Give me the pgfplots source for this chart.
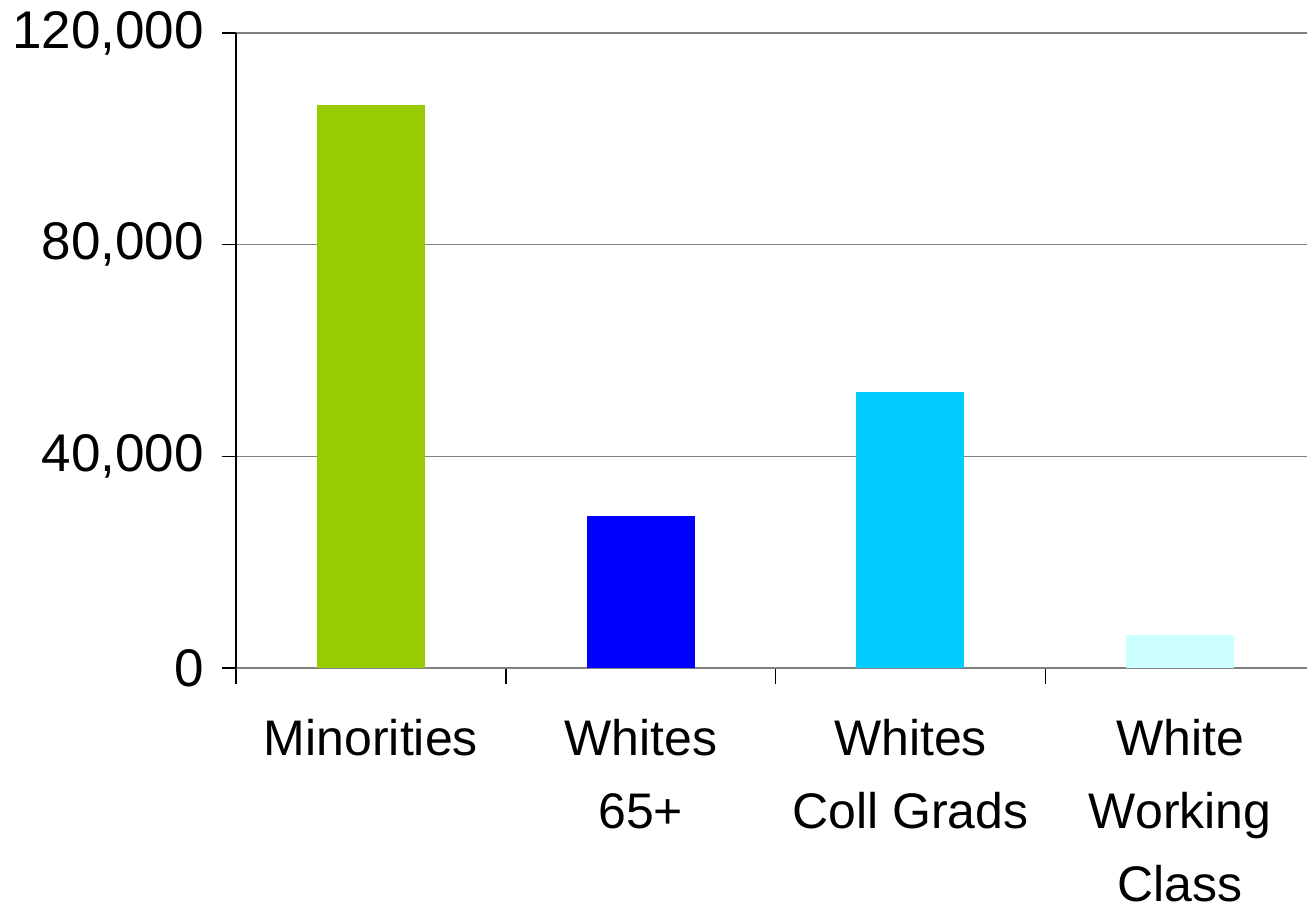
\documentclass[border=0pt]{standalone}
\usepackage{pgfplots}
\pgfplotsset{compat=1.18}
\usepackage{fontspec}
\setmainfont{Liberation Sans}
\definecolor{cMin}{HTML}{99CC00}
\definecolor{cW65}{HTML}{0000FF}
\definecolor{cWcg}{HTML}{00CCFF}
\definecolor{cWwc}{HTML}{CCFFFF}
\begin{document}
\begin{tikzpicture}
\begin{axis}[
  scale only axis, width=535.5pt, height=317.5pt,
  xmin=-0.5, xmax=3.47, ymin=0, ymax=120000,
  axis lines*=left,
  x axis line style={draw=gray, line width=1pt, -},
  y axis line style={draw=black, line width=0.8pt, -},
  ytick={0,40000,80000,120000},
  yticklabels={0,{40,000},{80,000},{120,000}},
  scaled y ticks=false,
  ymajorgrids, grid style={draw=gray, line width=0.8pt},
  tick align=outside,
  major tick length=7pt,
  minor tick length=8pt,
  xtick={0,1,2,3},
  xticklabels={Minorities,{Whites\\65+},{Whites\\Coll Grads},{White\\Working\\Class}},
  major x tick style={draw=none},
  minor xtick={-0.5,0.5,1.5,2.5},
  minor x tick style={draw=black, line width=0.8pt},
  major y tick style={draw=black, line width=0.8pt},
  xticklabel style={font=\fontsize{25}{36.5}\selectfont, align=center, anchor=north, yshift=-15pt},
  yticklabel style={font=\fontsize{26.5}{30}\selectfont, anchor=east, xshift=-5.5pt},
  ybar, bar width=0.4, bar shift=0pt,
]
\addplot[draw=none, fill=cMin] coordinates {(0,106400)};
\addplot[draw=none, fill=cW65] coordinates {(1,28700)};
\addplot[draw=none, fill=cWcg] coordinates {(2,52200)};
\addplot[draw=none, fill=cWwc] coordinates {(3,6200)};
\end{axis}
\pgfresetboundingbox
\path[use as bounding box] ([xshift=-118pt,yshift=-120.5pt]current axis.south west) rectangle ([yshift=16.5pt]current axis.north east);
\end{tikzpicture}
\end{document}
